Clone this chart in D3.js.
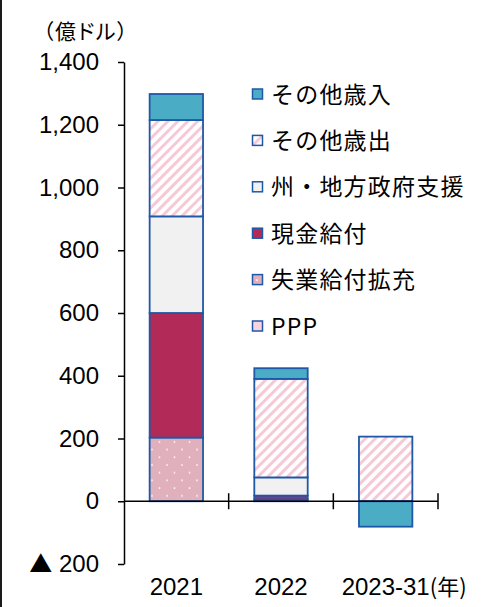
<!DOCTYPE html>
<html>
<head>
<meta charset="utf-8">
<script src="https://cdn.jsdelivr.net/npm/d3@7/dist/d3.min.js"></script>
<style>
  html, body { margin: 0; padding: 0; background: #fff; }
  svg { display: block; }
</style>
</head>
<body>
<div id="chart"></div>
<script>
// Categories (years) and stacked series values, in 億ドル
const categories = ["2021", "2022", "2023-31"];
const seriesNames = ["PPP", "失業給付拡充", "現金給付", "州・地方政府支援", "その他歳出", "その他歳入"];
const ppp            = [0, 0, 0];
const unemployment   = [203, 6, 0];
const cashPayments   = [397, 12, 0];
const stateLocalAid  = [308, 58, 0];
const otherSpending  = [307, 314, 206];
const otherRevenue   = [83, 34, -81];
const yTicks = [-200, 0, 200, 400, 600, 800, 1000, 1200, 1400];
const unitLabel = "（億ドル）";
const yearSuffix = "(年)";

const seriesValues = [ppp, unemployment, cashPayments, stateLocalAid, otherSpending, otherRevenue];
const rows = categories.map((c, i) => {
  const r = { category: c };
  seriesNames.forEach((s, k) => { r[s] = seriesValues[k][i]; });
  return r;
});

const W = 483, H = 607;
const NUM_FONT = "'Liberation Sans', Arial, sans-serif";
const JP_FONT = "'Noto Sans CJK JP', sans-serif";
const svg = d3.select("#chart").append("svg").attr("width", W).attr("height", H);
const defs = svg.append("defs");

// Diagonal pink hatch
const hatch = defs.append("pattern").attr("id", "hatch")
  .attr("patternUnits", "userSpaceOnUse").attr("width", 7).attr("height", 7)
  .attr("patternTransform", "rotate(45)");
hatch.append("rect").attr("width", 7).attr("height", 7).attr("fill", "#ffffff");
hatch.append("rect").attr("x", 0).attr("width", 3).attr("height", 7).attr("fill", "#f6c9d7");

// Pink with white dots
const dots = defs.append("pattern").attr("id", "dots")
  .attr("patternUnits", "userSpaceOnUse").attr("width", 15).attr("height", 15.4);
dots.append("rect").attr("width", 15).attr("height", 15.4).attr("fill", "#e0b1bc");
dots.append("circle").attr("cx", 2).attr("cy", 3).attr("r", 0.9).attr("fill", "#fff");
dots.append("circle").attr("cx", 9.5).attr("cy", 10.7).attr("r", 0.9).attr("fill", "#fff");

const fills = {
  "PPP": "#f9d3e0",
  "失業給付拡充": "url(#dots)",
  "現金給付": "#b22b58",
  "州・地方政府支援": "#f1f1f1",
  "その他歳出": "url(#hatch)",
  "その他歳入": "#4bacc6"
};
const barStroke = "#1f58a7";

const y = d3.scaleLinear().domain([-200, 1400]).range([564, 62]);
const x = d3.scaleBand().domain(categories).range([124, 438]).padding(0);
const barW = x.bandwidth() * 0.51;

// Left frame line
svg.append("line").attr("x1", 1).attr("x2", 1).attr("y1", 0).attr("y2", H)
  .attr("stroke", "#1a1a1a").attr("stroke-width", 2);

// Stacked bars
const stack = d3.stack().keys(seriesNames).offset(d3.stackOffsetDiverging);
const layers = stack(rows);
const gBars = svg.append("g");
layers.forEach(layer => {
  gBars.selectAll(null).data(layer.filter(d => d[1] !== d[0])).enter().append("rect")
    .attr("x", d => x(d.data.category) + (x.bandwidth() - barW) / 2)
    .attr("y", d => y(Math.max(d[0], d[1])))
    .attr("width", barW)
    .attr("height", d => Math.abs(y(d[0]) - y(d[1])))
    .attr("fill", fills[layer.key])
    .attr("stroke", barStroke)
    .attr("stroke-width", 1.8);
});

// Y axis (negative values marked with ▲)
const fmt = d3.format(",");
const yAxis = d3.axisLeft(y).tickValues(yTicks).tickSize(6).tickSizeOuter(0).tickPadding(19)
  .tickFormat(d => fmt(Math.abs(d)));
const gy = svg.append("g").attr("transform", "translate(124,0)").call(yAxis);
gy.selectAll("path,line").attr("stroke", "#000").attr("stroke-width", 1.5);
gy.selectAll("text").attr("font-family", NUM_FONT).attr("font-size", 24).attr("fill", "#000");
gy.selectAll(".tick").filter(d => d < 0).select("text").each(function (d) {
  const t = d3.select(this);
  const num = t.text();
  t.text(null);
  t.append("tspan").attr("font-family", JP_FONT).attr("font-size", 23).text("▲");
  t.append("tspan").text(" " + num);
});

// X axis: baseline with ticks at category boundaries
const y0 = y(0);
const gx = svg.append("g");
gx.append("line").attr("x1", 124).attr("x2", 438).attr("y1", y0).attr("y2", y0)
  .attr("stroke", "#000").attr("stroke-width", 1.5);
gx.selectAll(null).data(categories).enter().append("line")
  .attr("x1", d => x(d) + x.bandwidth()).attr("x2", d => x(d) + x.bandwidth())
  .attr("y1", y0 - 8).attr("y2", y0 + 8)
  .attr("stroke", "#000").attr("stroke-width", 1.5);
const catLabels = gx.selectAll(null).data(categories).enter().append("text")
  .attr("x", d => x(d) + x.bandwidth() / 2)
  .attr("y", 595)
  .attr("text-anchor", "middle")
  .attr("font-family", NUM_FONT)
  .attr("font-size", 24)
  .text(d => d);
// Year unit after the last category label
const lastLabel = catLabels.filter((d, i) => i === categories.length - 1).node();
const lastEnd = x(categories[categories.length - 1]) + x.bandwidth() / 2 + lastLabel.getComputedTextLength() / 2;
gx.append("text").attr("x", lastEnd).attr("y", 595)
  .attr("font-family", JP_FONT).attr("font-size", 22)
  .text(yearSuffix);

// Unit label
svg.append("text").attr("x", 86).attr("y", 39).attr("text-anchor", "middle")
  .attr("font-family", JP_FONT).attr("font-size", 21)
  .attr("letter-spacing", 1.5)
  .style("font-feature-settings", "'palt'")
  .text(unitLabel);

// Legend (top series first)
const legendNames = seriesNames.slice().reverse();
const gl = svg.append("g");
const legendY0 = 94, legendStep = 46.4;
legendNames.forEach((name, i) => {
  const cy = legendY0 + i * legendStep;
  gl.append("rect").attr("x", 252.5).attr("y", cy - 5).attr("width", 10).attr("height", 10)
    .attr("fill", fills[name]).attr("stroke", barStroke).attr("stroke-width", 1.5);
  gl.append("text").attr("x", 271).attr("y", cy).attr("dy", "0.37em")
    .attr("font-family", JP_FONT).attr("font-size", 23)
    .attr("letter-spacing", 1.2)
    .text(name);
});
</script>
</body>
</html>
